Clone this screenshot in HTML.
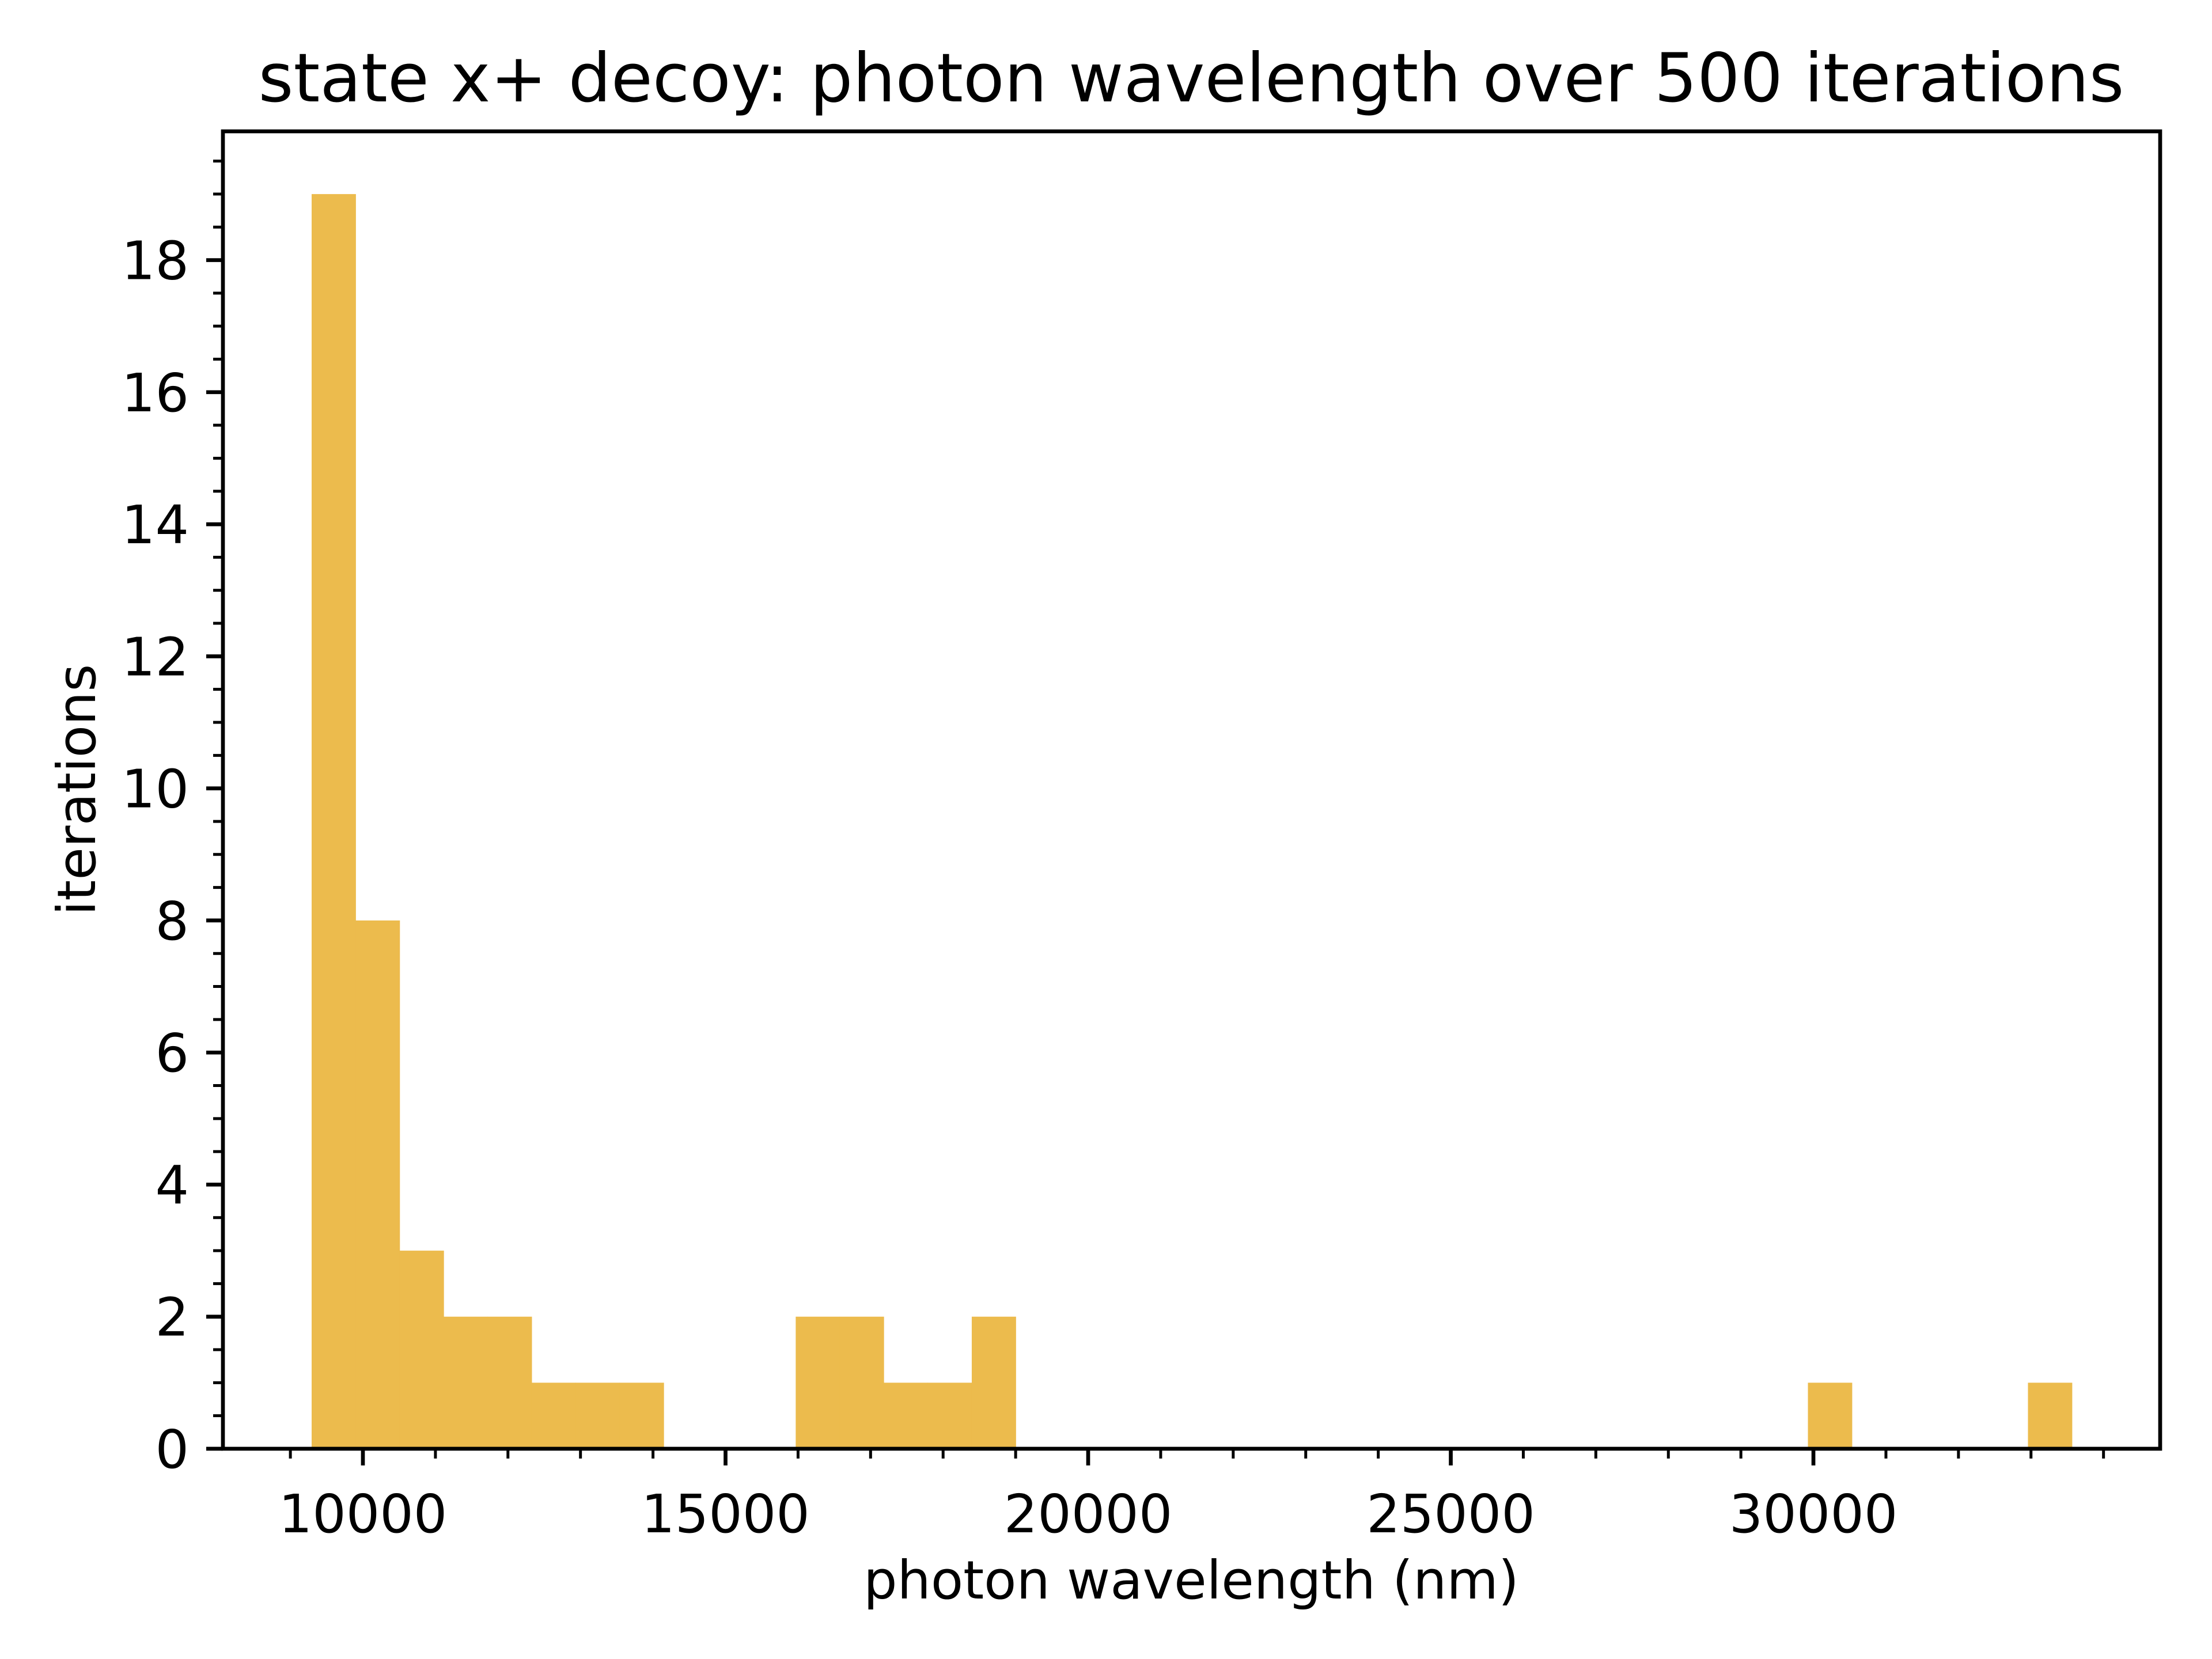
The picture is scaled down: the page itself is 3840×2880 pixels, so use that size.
<!DOCTYPE html>
<html><head><meta charset="utf-8"><style>
html,body{margin:0;padding:0;background:#fff;}
svg{display:block;font-family:"DejaVu Sans","Liberation Sans",sans-serif;}
</style></head><body>
<svg id="chart" width="3840" height="2880" viewBox="0 0 3840 2880" xmlns="http://www.w3.org/2000/svg">
<rect width="3840" height="2880" fill="#fff"/>
<text x="2068" y="176" font-size="117" text-anchor="middle">state x+ decoy: photon wavelength over 500 iterations</text>
<text x="2068" y="2775" font-size="92" text-anchor="middle">photon wavelength (nm)</text>
<text transform="translate(165,1371) rotate(-90)" font-size="92" text-anchor="middle">iterations</text>
<g id="bars"></g>
<g id="ticks"></g>
<rect x="387" y="228" width="3363" height="2287" fill="none" stroke="#000" stroke-width="6.7"/>
</svg>
<script>
const binStart = 9293;
const binWidth = 606.8;
const counts = [19,8,3,2,2,1,1,1,0,0,0,2,2,1,1,2,0,0,0,0,0,0,0,0,0,0,0,0,0,0,0,0,0,0,1,0,0,0,0,1];
const xTicks = [10000,15000,20000,25000,30000];
const xTickLabels = ["10000","15000","20000","25000","30000"];
const yTicks = [0,2,4,6,8,10,12,14,16,18];
const yTickLabels = ["0","2","4","6","8","10","12","14","16","18"];

const L=387,R=3750,T=228,B=2515;
const xMin=8070,xMax=34781,yMin=0,yMax=19.95;
const sx=v=>L+(v-xMin)/(xMax-xMin)*(R-L);
const sy=v=>B-(v-yMin)/(yMax-yMin)*(B-T);
const NS="http://www.w3.org/2000/svg";
const bars=document.getElementById('bars');
const ticks=document.getElementById('ticks');
counts.forEach((c,i)=>{
  if(c<=0)return;
  const x0=sx(binStart+i*binWidth),x1=sx(binStart+(i+1)*binWidth);
  const r=document.createElementNS(NS,'rect');
  r.setAttribute('x',x0);r.setAttribute('y',sy(c));
  r.setAttribute('width',x1-x0+0.5);r.setAttribute('height',sy(0)-sy(c));
  r.setAttribute('fill','#ECBB4D');
  
  
  bars.appendChild(r);
});
function line(x1,y1,x2,y2,w,name){
  const l=document.createElementNS(NS,'line');
  l.setAttribute('x1',x1);l.setAttribute('y1',y1);l.setAttribute('x2',x2);l.setAttribute('y2',y2);
  l.setAttribute('stroke','#000');l.setAttribute('stroke-width',w);
  
  
  ticks.appendChild(l);
}
function text(x,y,s,anchor,name){
  const t=document.createElementNS(NS,'text');
  t.setAttribute('x',x);t.setAttribute('y',y);t.setAttribute('font-size','92');
  t.setAttribute('text-anchor',anchor);t.textContent=s;
  
  
  ticks.appendChild(t);
}
for(let v=9000;v<=34000;v+=1000){ if(v%5000!==0) line(sx(v),B,sx(v),B+17,5,'x-minor-tick'); }
xTicks.forEach((v,i)=>{ line(sx(v),B,sx(v),B+29,6.7,'x-major-tick'); text(sx(v),2660,xTickLabels[i],'middle','x-tick-label'); });
for(let v=0.5;v<yMax;v+=0.5){ if(v%2!==0) line(L,sy(v),L-17,sy(v),5,'y-minor-tick'); }
yTicks.forEach((v,i)=>{ line(L,sy(v),L-29,sy(v),6.7,'y-major-tick'); text(328,sy(v)+33,yTickLabels[i],'end','y-tick-label'); });
</script>
</body></html>
